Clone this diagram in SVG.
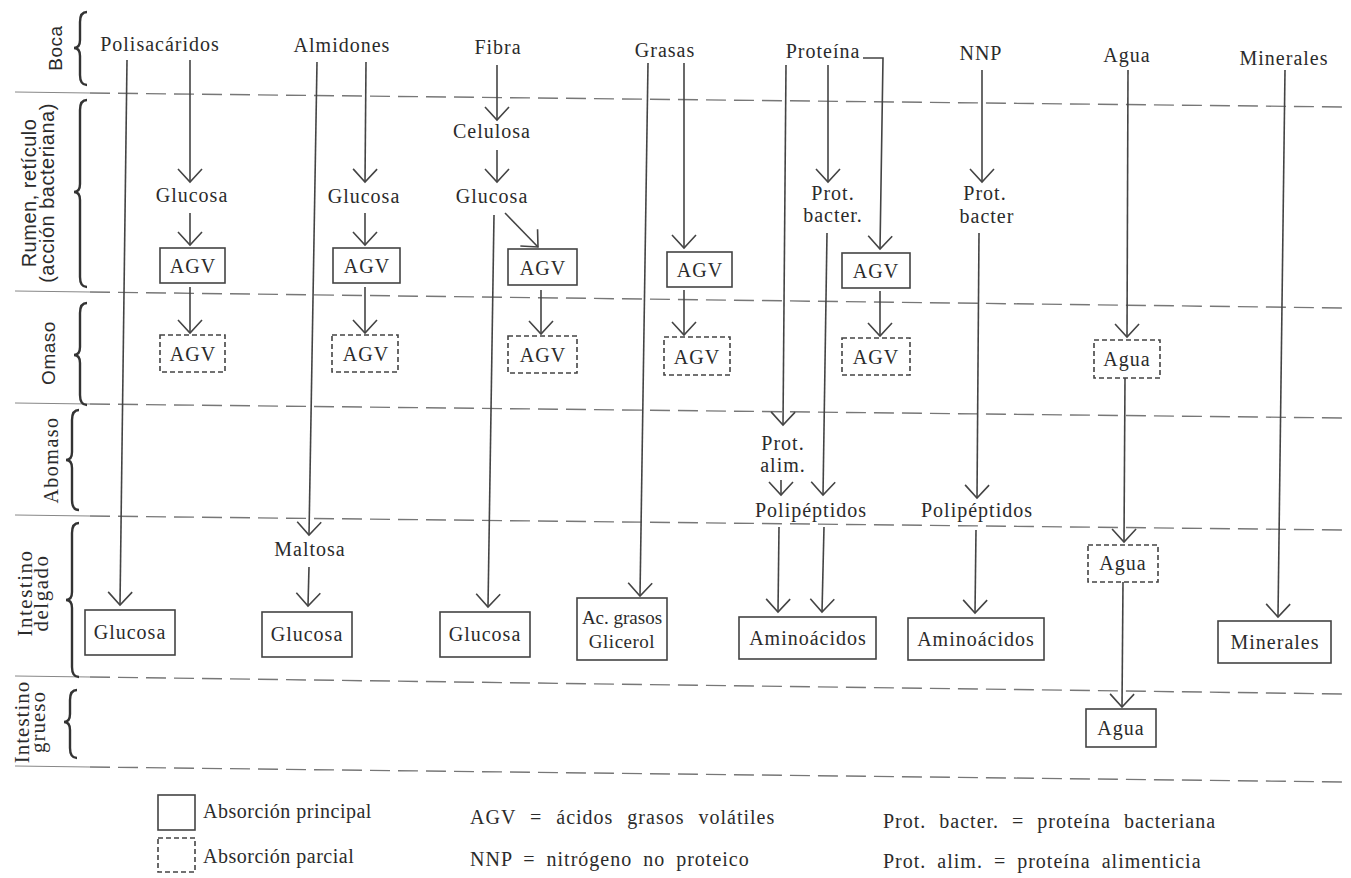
<svg xmlns="http://www.w3.org/2000/svg" width="1351" height="878" viewBox="0 0 1351 878">
<defs>
<style>
.t{font-family:"Liberation Serif",serif;font-size:20px;fill:#2b2b2b;letter-spacing:1px;text-anchor:middle}
.ts{font-family:"Liberation Sans",sans-serif;font-size:19px;fill:#2b2b2b;letter-spacing:0.5px;text-anchor:middle}
.lg{font-family:"Liberation Serif",serif;font-size:20px;fill:#2b2b2b;letter-spacing:1px}
.box{fill:#fff;stroke:#444;stroke-width:1.6}
.dbox{fill:#fff;stroke:#444;stroke-width:1.6;stroke-dasharray:5 3}
.c{fill:none;stroke:#444;stroke-width:1.6}
.ca{fill:none;stroke:#444;stroke-width:1.6;marker-end:url(#ah)}
.sec{fill:none;stroke:#777;stroke-width:1.4;stroke-dasharray:20 8}
.secs{fill:none;stroke:#888;stroke-width:1.2}
.br{fill:none;stroke:#333;stroke-width:2.4}
</style>
<marker id="ah" viewBox="-15 -14 17 28" refX="0" refY="0" markerWidth="17" markerHeight="28" markerUnits="userSpaceOnUse" orient="auto">
<path d="M-13,-12 L0,0 L-13,12" fill="none" stroke="#444" stroke-width="1.6"/>
</marker>
</defs>
<rect width="1351" height="878" fill="#fff"/>

<g id="sections">
<path class="secs" d="M15,92 L90,93"/>
<path class="sec" d="M90,93 L1345,107"/>
<path class="secs" d="M15,291 L90,292"/>
<path class="sec" d="M90,292 L1345,308"/>
<path class="secs" d="M15,403 L90,404"/>
<path class="sec" d="M90,404 L1345,418"/>
<path class="secs" d="M15,515 L90,516"/>
<path class="sec" d="M90,516 L1345,530"/>
<path class="secs" d="M15,676 L90,677"/>
<path class="sec" d="M90,677 L1345,694"/>
<path class="secs" d="M15,766 L90,767"/>
<path class="sec" d="M90,767 L1345,782"/>
</g>

<g id="region-labels">
<g id="lbl-boca">
<path class="br" d="M87,12 Q80,12 80,22 L80,40 Q80,48 74,48 Q80,48 80,56 L80,75 Q80,85 87,85"/>
<text class="ts" transform="translate(62,48) rotate(-90)">Boca</text>
</g>
<g id="lbl-rumen">
<path class="br" d="M87,100 Q80,100 80,110 L80,184 Q80,192 74,192 Q80,192 80,200 L80,277 Q80,287 87,287"/>
<text class="ts" style="font-size:20px" transform="translate(36,193) rotate(-90)">Rumen, retículo</text>
<text class="ts" style="font-size:20px" transform="translate(54,193) rotate(-90)">(acción bacteriana)</text>
</g>
<g id="lbl-omaso">
<path class="br" d="M87,303 Q80,303 80,313 L80,347 Q80,355 74,355 Q80,355 80,363 L80,395 Q80,405 87,405"/>
<text class="ts" transform="translate(55,353) rotate(-90)">Omaso</text>
</g>
<g id="lbl-abomaso">
<path class="br" d="M79,410 Q72,410 72,420 L72,452 Q72,460 66,460 Q72,460 72,468 L72,500 Q72,510 79,510"/>
<text class="t" style="letter-spacing:1.5px" transform="translate(58,460) rotate(-90)">Abomaso</text>
</g>
<g id="lbl-delgado">
<path class="br" d="M79,523 Q72,523 72,533 L72,592 Q72,600 66,600 Q72,600 72,608 L72,667 Q72,677 79,677"/>
<text class="t" style="font-size:21px;letter-spacing:1.5px" transform="translate(32,593) rotate(-90)">Intestino</text>
<text class="t" style="font-size:21px;letter-spacing:1.5px" transform="translate(48,593) rotate(-90)">delgado</text>
</g>
<g id="lbl-grueso">
<path class="br" d="M77,690 Q70,690 70,700 L70,714 Q70,722 64,722 Q70,722 70,730 L70,748 Q70,758 77,758"/>
<text class="t" style="font-size:21px;letter-spacing:1px" transform="translate(29,722) rotate(-90)">Intestino</text>
<text class="t" style="font-size:21px;letter-spacing:1px" transform="translate(45,722) rotate(-90)">grueso</text>
</g>
</g>

<g id="connectors">
<path class="ca" d="M127,60 L120,605"/>
<path class="ca" d="M190,60 L190,182"/>
<path class="ca" d="M190,213 L190,245"/>
<path class="ca" d="M190,287 L190,333"/>
<path class="ca" d="M317,62 L309,535"/>
<path class="ca" d="M309,567 L308,606"/>
<path class="ca" d="M366,62 L365,182"/>
<path class="ca" d="M365,213 L365,245"/>
<path class="ca" d="M365,287 L365,333"/>
<path class="ca" d="M497,65 L497,120"/>
<path class="ca" d="M497,150 L497,182"/>
<path class="ca" d="M494,215 L488,607"/>
<path class="ca" d="M505,213 L538,247"/>
<path class="ca" d="M541,290 L541,334"/>
<path class="ca" d="M648,63 L640,596"/>
<path class="ca" d="M684,63 L684,248"/>
<path class="ca" d="M684,290 L684,335"/>
<path class="ca" d="M786,65 L783,425"/>
<path class="ca" d="M828,65 L828,182"/>
<path class="ca" d="M863,58 L883,58 L880,249"/>
<path class="ca" d="M880,291 L880,336"/>
<path class="ca" d="M781,480 L781,495"/>
<path class="ca" d="M827,233 L823,495"/>
<path class="ca" d="M779,527 L778,612"/>
<path class="ca" d="M824,527 L822,612"/>
<path class="ca" d="M982,70 L982,182"/>
<path class="ca" d="M979,233 L977,498"/>
<path class="ca" d="M976,530 L975,613"/>
<path class="ca" d="M1128,70 L1127,337"/>
<path class="ca" d="M1125,378 L1124,542"/>
<path class="ca" d="M1123,582 L1122,707"/>
<path class="ca" d="M1285,70 L1278,617"/>
</g>

<g id="n-polisacaridos"><text class="t" x="160" y="51">Polisacáridos</text></g>
<g id="n-glucosa1"><text class="t" x="192" y="202">Glucosa</text></g>
<g id="n-agv1"><rect class="box" x="160" y="248" width="65" height="35"/><text class="t" x="193" y="273">AGV</text></g>
<g id="n-agv1p"><rect class="dbox" x="160" y="335" width="65" height="37"/><text class="t" x="193" y="361">AGV</text></g>
<g id="n-glucosa1f"><rect class="box" x="85" y="610" width="90" height="45"/><text class="t" x="130" y="639">Glucosa</text></g>

<g id="n-almidones"><text class="t" x="342" y="52">Almidones</text></g>
<g id="n-glucosa2"><text class="t" x="364" y="203">Glucosa</text></g>
<g id="n-agv2"><rect class="box" x="333" y="248" width="67" height="35"/><text class="t" x="367" y="273">AGV</text></g>
<g id="n-agv2p"><rect class="dbox" x="332" y="335" width="66" height="37"/><text class="t" x="366" y="361">AGV</text></g>
<g id="n-maltosa"><text class="t" x="310" y="556">Maltosa</text></g>
<g id="n-glucosa2f"><rect class="box" x="262" y="612" width="90" height="45"/><text class="t" x="307" y="641">Glucosa</text></g>

<g id="n-fibra"><text class="t" x="498" y="54">Fibra</text></g>
<g id="n-celulosa"><text class="t" x="492" y="138">Celulosa</text></g>
<g id="n-glucosa3"><text class="t" x="492" y="203">Glucosa</text></g>
<g id="n-agv3"><rect class="box" x="508" y="249" width="69" height="36"/><text class="t" x="543" y="275">AGV</text></g>
<g id="n-agv3p"><rect class="dbox" x="508" y="336" width="69" height="37"/><text class="t" x="543" y="362">AGV</text></g>
<g id="n-glucosa3f"><rect class="box" x="440" y="612" width="90" height="45"/><text class="t" x="485" y="641">Glucosa</text></g>

<g id="n-grasas"><text class="t" x="665" y="57">Grasas</text></g>
<g id="n-agv4"><rect class="box" x="667" y="252" width="65" height="35"/><text class="t" x="700" y="277">AGV</text></g>
<g id="n-agv4p"><rect class="dbox" x="664" y="337" width="66" height="38"/><text class="t" x="697" y="364">AGV</text></g>
<g id="n-acgrasos"><rect class="box" x="577" y="598" width="90" height="62"/><text class="t" style="font-size:19px;letter-spacing:0" x="622" y="624">Ac. grasos</text><text class="t" style="font-size:19px;letter-spacing:0.5px" x="622" y="648">Glicerol</text></g>

<g id="n-proteina"><text class="t" x="823" y="58">Proteína</text></g>
<g id="n-protbacter1"><text class="t" x="833" y="200">Prot.</text><text class="t" x="833" y="222">bacter.</text></g>
<g id="n-agv5"><rect class="box" x="842" y="253" width="68" height="35"/><text class="t" x="876" y="278">AGV</text></g>
<g id="n-agv5p"><rect class="dbox" x="842" y="338" width="68" height="37"/><text class="t" x="876" y="364">AGV</text></g>
<g id="n-protalim"><text class="t" x="783" y="450">Prot.</text><text class="t" x="783" y="472">alim.</text></g>
<g id="n-polipeptidos1"><text class="t" x="811" y="517">Polipéptidos</text></g>
<g id="n-aminoacidos1"><rect class="box" x="739" y="617" width="137" height="42"/><text class="t" x="808" y="645">Aminoácidos</text></g>

<g id="n-nnp"><text class="t" x="981" y="60">NNP</text></g>
<g id="n-protbacter2"><text class="t" x="985" y="200">Prot.</text><text class="t" x="987" y="223">bacter</text></g>
<g id="n-polipeptidos2"><text class="t" x="977" y="517">Polipéptidos</text></g>
<g id="n-aminoacidos2"><rect class="box" x="908" y="618" width="136" height="42"/><text class="t" x="976" y="646">Aminoácidos</text></g>

<g id="n-agua"><text class="t" x="1127" y="62">Agua</text></g>
<g id="n-agua1p"><rect class="dbox" x="1094" y="340" width="66" height="38"/><text class="t" x="1127" y="366">Agua</text></g>
<g id="n-agua2p"><rect class="dbox" x="1088" y="545" width="70" height="37"/><text class="t" x="1123" y="570">Agua</text></g>
<g id="n-agua3"><rect class="box" x="1086" y="709" width="70" height="38"/><text class="t" x="1121" y="735">Agua</text></g>

<g id="n-minerales"><text class="t" x="1284" y="65">Minerales</text></g>
<g id="n-mineralesf"><rect class="box" x="1218" y="621" width="113" height="42"/><text class="t" x="1275" y="649">Minerales</text></g>

<g id="legend">
<rect class="box" x="158" y="795" width="37" height="35"/>
<text class="lg" x="203" y="818" style="letter-spacing:0.5px">Absorción principal</text>
<rect class="dbox" x="158" y="838" width="37" height="34"/>
<text class="lg" x="203" y="863" style="letter-spacing:0.5px">Absorción parcial</text>
<text class="lg" x="470" y="824" style="word-spacing:8px">AGV = ácidos grasos volátiles</text>
<text class="lg" x="470" y="866" style="word-spacing:5px">NNP = nitrógeno no proteico</text>
<text class="lg" x="883" y="828" style="word-spacing:7px">Prot. bacter. = proteína bacteriana</text>
<text class="lg" x="883" y="868" style="word-spacing:5px">Prot. alim. = proteína alimenticia</text>
</g>
</svg>
